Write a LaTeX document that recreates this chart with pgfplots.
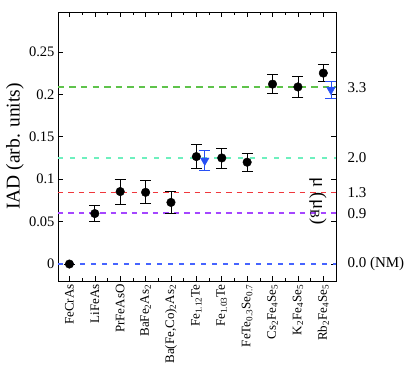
\documentclass[border=0pt]{standalone}
\usepackage{pgfplots}
\pgfplotsset{compat=1.18}
\usepackage{fontspec}
\setmainfont{Liberation Serif}
\definecolor{dashgreen}{RGB}{95,195,75}
\definecolor{dashcyan}{RGB}{110,240,190}
\definecolor{dashred}{RGB}{240,55,60}
\definecolor{dashpurple}{RGB}{165,70,255}
\definecolor{dashblue}{RGB}{70,100,255}
\definecolor{triblue}{RGB}{40,80,245}

\pgfplotstableread{
x y e
0 0.0 0.0
1 0.0595 0.0095
2 0.0854 0.0147
3 0.0845 0.0135
4 0.0726 0.0135
5 0.1266 0.0138
6 0.125 0.0118
7 0.120 0.0103
8 0.212 0.0112
9 0.2087 0.0127
10 0.225 0.0100
}\circles

\pgfplotstableread{
x y e
5.33 0.122 0.0115
10.3 0.2055 0.0100
}\triangles

\begin{document}
\begin{tikzpicture}
\begin{axis}[
    scale only axis, width=278pt, height=269pt,
    xmin=-0.45, xmax=10.5, ymin=-0.02, ymax=0.297,
    xtick={0,...,10},
    xticklabels={FeCrAs, LiFeAs, PrFeAsO, BaFe\textsubscript{2}As\textsubscript{2},
      Ba(Fe{,}Co)\textsubscript{2}As\textsubscript{2}, Fe\textsubscript{1.12}Te,
      Fe\textsubscript{1.03}Te, FeTe\textsubscript{0.3}Se\textsubscript{0.7},
      Cs\textsubscript{2}Fe\textsubscript{4}Se\textsubscript{5},
      K\textsubscript{2}Fe\textsubscript{4}Se\textsubscript{5},
      Rb\textsubscript{2}Fe\textsubscript{4}Se\textsubscript{5}},
    xticklabel style={rotate=90, anchor=east, font=\fontsize{13}{14}\selectfont},
    minor x tick num=1,
    ytick={0,0.05,0.1,0.15,0.2,0.25},
    yticklabels={0,0.05,0.1,0.15,0.2,0.25},
    yticklabel style={font=\fontsize{14.5}{15}\selectfont},
    tick align=inside,
    major tick length=5pt, minor tick length=3pt,
    tick style={black, line width=0.6pt},
    ylabel={IAD (arb. units)},
    ylabel style={font=\fontsize{19.5}{20}\selectfont,
      at={(axis description cs:-0.155,0.5)}, anchor=center},
    axis line style={line width=0.8pt},
    clip=false,
]
% reference moment levels
\addplot[draw=dashgreen, line width=1.8pt, dash pattern=on 6.5pt off 5pt, forget plot] coordinates {(-0.45,0.2086) (10.5,0.2086)};
\addplot[draw=dashcyan, line width=1.1pt, dash pattern=on 5pt off 7pt, forget plot] coordinates {(-0.45,0.125) (10.5,0.125)};
\addplot[draw=dashred, line width=1.2pt, dash pattern=on 5.5pt off 5pt, forget plot] coordinates {(-0.45,0.0845) (10.5,0.0845)};
\addplot[draw=dashpurple, line width=1.5pt, dash pattern=on 5.5pt off 5pt, forget plot] coordinates {(-0.45,0.0601) (10.5,0.0601)};
\addplot[draw=dashblue, line width=1.3pt, dash pattern=on 5pt off 6pt, forget plot] coordinates {(-0.45,0) (10.5,0)};
\addplot[only marks, mark=*, mark size=4.3pt, black,
    error bars/.cd, y dir=both, y explicit,
    error mark options={rotate=90, black, mark size=5.5pt, line width=0.8pt},
    error bar style={black, line width=0.8pt}]
    table[x=x, y=y, y error=e] {\circles};
\addplot[only marks, mark=triangle*, mark size=5pt, triblue,
    mark options={rotate=180, fill=triblue},
    error bars/.cd, y dir=both, y explicit,
    error mark options={rotate=90, triblue, mark size=5.5pt, line width=0.8pt},
    error bar style={triblue, line width=0.8pt}]
    table[x=x, y=y, y error=e] {\triangles};
% moment labels on the right
\begin{scope}[every node/.style={anchor=west, font=\fontsize{15}{16}\selectfont}]
\node at (axis cs:10.5,0.208) [xshift=8pt] {3.3};
\node at (axis cs:10.5,0.125) [xshift=8pt] {2.0};
\node at (axis cs:10.5,0.0845) [xshift=8pt] {1.3};
\node at (axis cs:10.5,0.0595) [xshift=8pt] {0.9};
\node at (axis cs:10.5,0) [xshift=8pt] {0.0 (NM)};
\end{scope}
\node[rotate=-90, font=\fontsize{19}{20}\selectfont] at (rel axis cs:1,0.5) [xshift=55pt, yshift=-18pt] {μ (μ\textsubscript{B})};
\end{axis}
\pgfresetboundingbox
\path[use as bounding box] (-58pt,-91pt) rectangle (357pt,281pt);
\end{tikzpicture}
\end{document}
